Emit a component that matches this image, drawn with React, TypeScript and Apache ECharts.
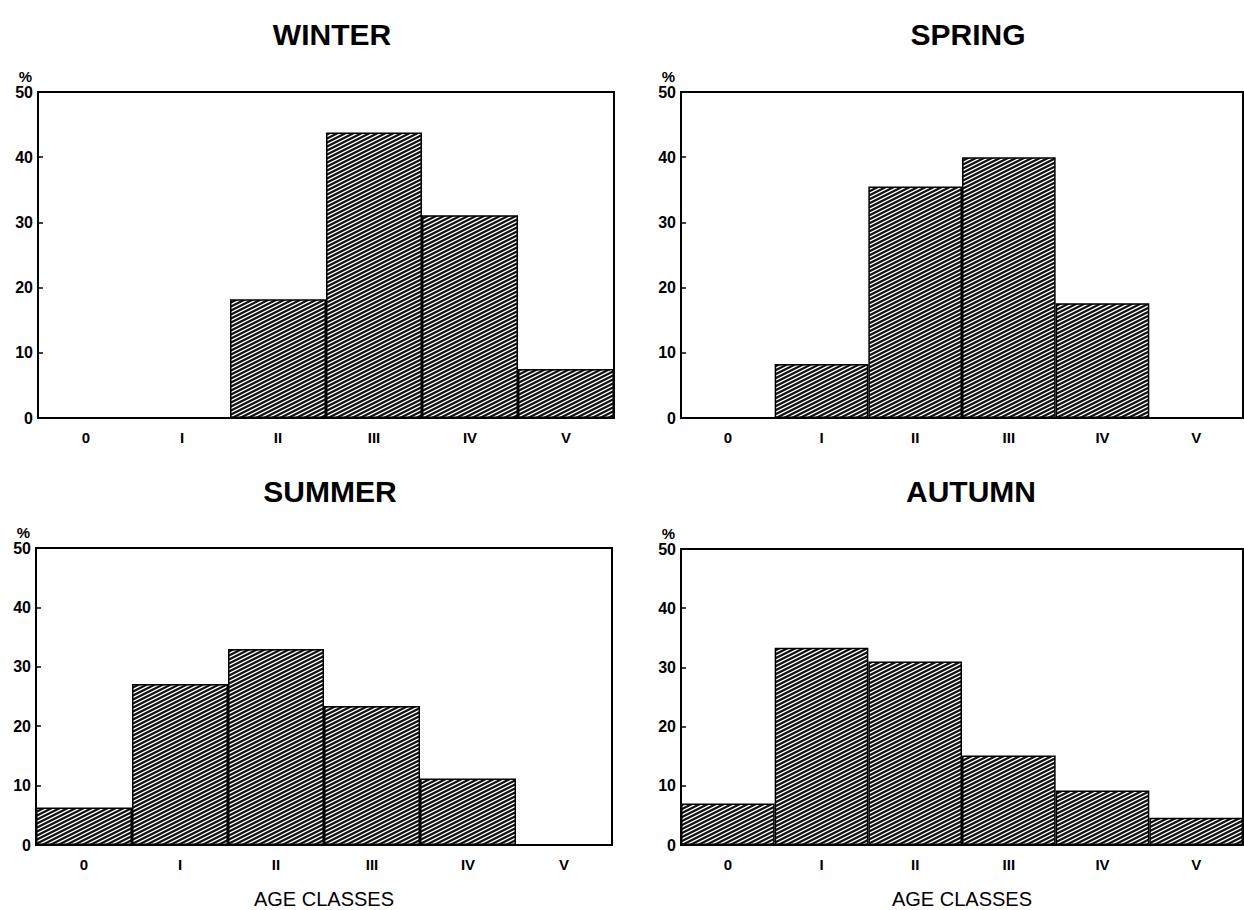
import React, { useEffect, useRef } from "react";
import * as echarts from "echarts";

const ageClasses = ["0", "I", "II", "III", "IV", "V"];
const yTicks = [0, 10, 20, 30, 40, 50];
const winter = [0, 0, 18.2, 43.8, 31.1, 7.5];
const spring = [0, 8.3, 35.5, 40.0, 17.6, 0];
const summer = [6.3, 27.1, 33.0, 23.4, 11.2, 0];
const autumn = [7.0, 33.3, 31.0, 15.1, 9.2, 4.6];
const seasons = ["WINTER", "SPRING", "SUMMER", "AUTUMN"];
const seriesData = [winter, spring, summer, autumn];

const grids = [
  { left: 38, top: 92, width: 576, height: 326 },
  { left: 681, top: 92, width: 562, height: 326 },
  { left: 36, top: 548, width: 576, height: 308 },
  { left: 681, top: 549, width: 562, height: 307 },
];

const titlePos = [
  { x: 327, y: 29 },
  { x: 963, y: 29 },
  { x: 325, y: 486 },
  { x: 966, y: 486 },
];

function makeHatch(): HTMLCanvasElement {
  // lines rising to the right (slope 1/2), vertical spacing 4px, seamless in a 16x8 tile
  const c = document.createElement("canvas");
  const w = 16;
  const h = 8;
  c.width = w;
  c.height = h;
  const ctx = c.getContext("2d")!;
  ctx.fillStyle = "#111";
  ctx.fillRect(0, 0, w, h);
  ctx.strokeStyle = "#fff";
  ctx.lineWidth = 1.35;
  const slope = h / w;
  for (let k = -4; k <= 8; k++) {
    const y0 = k * 4;
    ctx.beginPath();
    ctx.moveTo(-w, y0 + slope * w);
    ctx.lineTo(2 * w, y0 - slope * 2 * w);
    ctx.stroke();
  }
  return c;
}

export default function App() {
  const ref = useRef<HTMLDivElement>(null);
  useEffect(() => {
    if (!ref.current) return;
    const chart = echarts.init(ref.current, null, { renderer: "svg" });
    const font = "Liberation Sans, Arial, sans-serif";
    const hatch = makeHatch();
    const option: any = {
      animation: false,
      backgroundColor: "#fff",
      title: seasons.map((s, i) => ({
        text: s,
        left: titlePos[i].x,
        top: titlePos[i].y,
        textAlign: "center",
        textVerticalAlign: "middle",
        textStyle: { fontFamily: font, fontWeight: 900, fontSize: 30, color: "#000" },
      })),
      grid: grids.map((g) => ({
        ...g,
        show: true,
        borderColor: "#000",
        borderWidth: 2,
        backgroundColor: "transparent",
        containLabel: false,
      })),
      xAxis: grids.map((_, i) => ({
        type: "category",
        gridIndex: i,
        data: ageClasses,
        boundaryGap: true,
        name: i >= 2 ? "AGE CLASSES" : "",
        nameLocation: "middle",
        nameGap: 44,
        nameTextStyle: { fontFamily: font, fontSize: 20, color: "#000" },
        axisLine: { lineStyle: { color: "#000", width: 2 } },
        axisTick: { alignWithLabel: true, inside: true, length: 6, lineStyle: { color: "#000", width: 1.5 } },
        axisLabel: { fontFamily: font, fontWeight: "bold", fontSize: 15, color: "#000", margin: 12 },
        splitLine: { show: false },
      })),
      yAxis: grids.map((_, i) => ({
        type: "value",
        gridIndex: i,
        min: yTicks[0],
        max: yTicks[yTicks.length - 1],
        interval: 10,
        name: "%",
        nameLocation: "end",
        nameGap: 7,
        nameTextStyle: { fontFamily: font, fontWeight: "bold", fontSize: 15, color: "#000", align: "right", padding: [0, 6, 0, 0] },
        axisLine: { show: true, lineStyle: { color: "#000", width: 2 } },
        axisTick: { show: true, inside: true, length: 5, lineStyle: { color: "#000", width: 1.5 } },
        axisLabel: { fontFamily: font, fontWeight: "bold", fontSize: 16, color: "#000", margin: 5 },
        splitLine: { show: false },
      })),
      series: seriesData.map((d, i) => ({
        type: "bar",
        xAxisIndex: i,
        yAxisIndex: i,
        data: d,
        barCategoryGap: "0%",
        itemStyle: {
          color: { image: hatch, repeat: "repeat" },
          borderColor: "#000",
          borderWidth: 1.5,
        },
      })),
    };
    chart.setOption(option);
    return () => chart.dispose();
  }, []);
  return (
    <div
      ref={ref}
      style={{ position: "fixed", left: 0, top: 0, width: 1244, height: 910, background: "#fff" }}
    />
  );
}
